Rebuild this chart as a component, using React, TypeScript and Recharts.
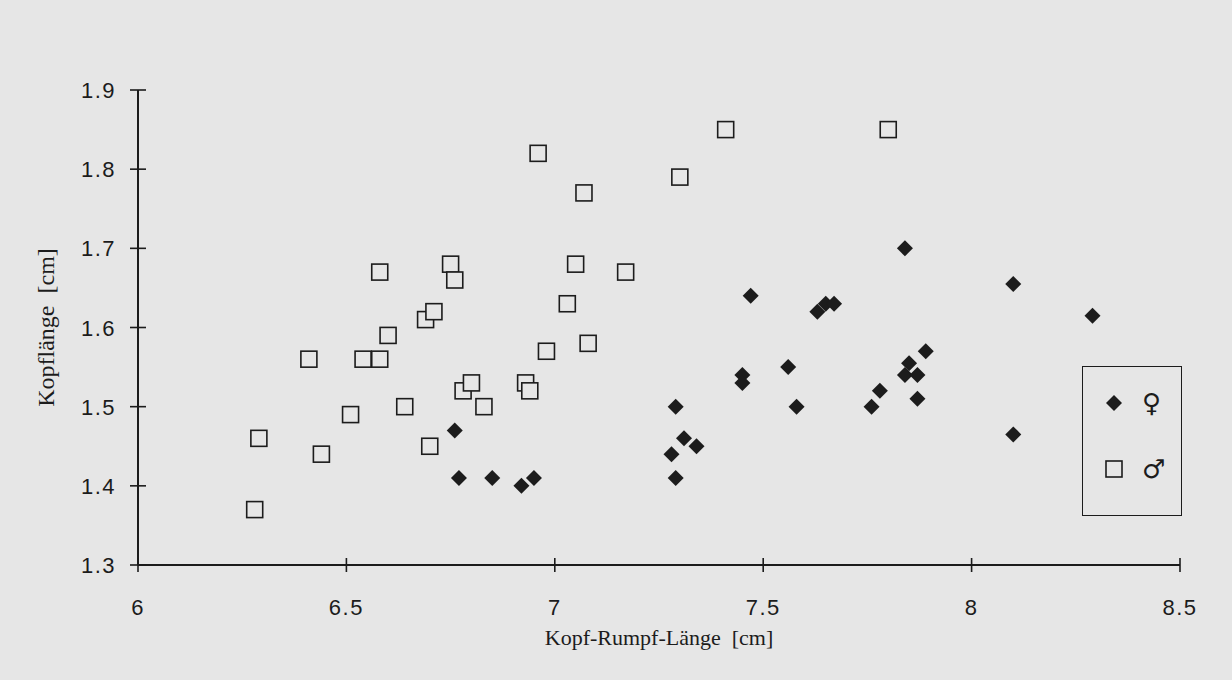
import { ScatterChart, Scatter, XAxis, YAxis } from 'recharts';

// Kopf-Rumpf-Länge (x) und Kopflänge (y)
const femaleKRL = [6.76, 6.77, 6.85, 6.92, 6.95, 7.28, 7.29, 7.29, 7.31, 7.34, 7.45, 7.45, 7.47, 7.56, 7.58, 7.63, 7.65, 7.67, 7.76, 7.78, 7.84, 7.84, 7.85, 7.87, 7.87, 7.89, 8.1, 8.1, 8.29];
const femaleKL = [1.47, 1.41, 1.41, 1.4, 1.41, 1.44, 1.5, 1.41, 1.46, 1.45, 1.54, 1.53, 1.64, 1.55, 1.5, 1.62, 1.63, 1.63, 1.5, 1.52, 1.7, 1.54, 1.555, 1.54, 1.51, 1.57, 1.655, 1.465, 1.615];

const maleKRL = [6.28, 6.29, 6.41, 6.44, 6.51, 6.54, 6.58, 6.58, 6.6, 6.64, 6.69, 6.71, 6.7, 6.75, 6.76, 6.78, 6.8, 6.83, 6.93, 6.94, 6.96, 6.98, 7.03, 7.05, 7.07, 7.08, 7.17, 7.3, 7.41, 7.8];
const maleKL = [1.37, 1.46, 1.56, 1.44, 1.49, 1.56, 1.56, 1.67, 1.59, 1.5, 1.61, 1.62, 1.45, 1.68, 1.66, 1.52, 1.53, 1.5, 1.53, 1.52, 1.82, 1.57, 1.63, 1.68, 1.77, 1.58, 1.67, 1.79, 1.85, 1.85];

const xTicks = [6, 6.5, 7, 7.5, 8, 8.5];
const yTicks = [1.3, 1.4, 1.5, 1.6, 1.7, 1.8, 1.9];
const seriesNames = ['♀', '♂'];

const female = femaleKRL.map((x, i) => ({ x, y: femaleKL[i] }));
const male = maleKRL.map((x, i) => ({ x, y: maleKL[i] }));

const INK = '#1c1c1c';
const PAPER = '#e6e6e6';
const TICK_SIZE = 8;
const TICK_MARGIN = 14;
const SANS = "'Liberation Sans', Arial, sans-serif";
const SERIF = "'Liberation Serif', 'Times New Roman', serif";

const Diamond = ({ cx, cy }: any) => (
  <path d={`M${cx},${cy - 8} L${cx + 8},${cy} L${cx},${cy + 8} L${cx - 8},${cy} Z`} fill={INK} />
);

const Square = ({ cx, cy }: any) => (
  <rect x={cx - 8} y={cy - 8} width={16} height={16} fill={PAPER} stroke={INK} strokeWidth={1.6} />
);

const YTick = ({ x, y, payload }: any) => {
  const ax = x + TICK_SIZE + TICK_MARGIN;
  return (
    <g>
      <line x1={ax - 8} x2={ax + 8} y1={y} y2={y} stroke={INK} strokeWidth={1.6} />
      <text x={x} y={y} dy={8} textAnchor="end" fill={INK} fontSize={22} letterSpacing={1.5} fontFamily={SANS}>
        {payload.value}
      </text>
    </g>
  );
};

const XTick = ({ x, y, payload }: any) => {
  const ay = y - TICK_SIZE - TICK_MARGIN;
  return (
    <g>
      <line x1={x} x2={x} y1={ay - 7} y2={ay + 7} stroke={INK} strokeWidth={1.6} />
      <text x={x} y={y} dy={28} textAnchor="middle" fill={INK} fontSize={22} letterSpacing={1.5} fontFamily={SANS}>
        {payload.value}
      </text>
    </g>
  );
};

const LegendBox = () => (
  <div style={{ position: 'absolute', left: 1082, top: 366, width: 100, height: 150, border: `1.6px solid ${INK}`, boxSizing: 'border-box' }}>
    {seriesNames.map((name, i) => (
      <div key={name} style={{ position: 'absolute', left: 21, top: 26 + i * 66, display: 'flex', alignItems: 'center', gap: 18 }}>
        <svg width={20} height={20}>
          {i === 0 ? <Diamond cx={10} cy={10} /> : <Square cx={10} cy={10} />}
        </svg>
        <span style={{ fontFamily: "'DejaVu Sans', sans-serif", fontSize: 26, fontWeight: 'bold', color: INK, lineHeight: '20px' }}>
          {name}
        </span>
      </div>
    ))}
  </div>
);

export default function App() {
  return (
    <div style={{ position: 'absolute', left: 0, top: 0, width: 1232, height: 680, background: PAPER }}>
      <ScatterChart width={1232} height={680} margin={{ top: 90, right: 52, bottom: 55, left: 58 }}>
        <XAxis
          type="number"
          dataKey="x"
          domain={[6, 8.5]}
          ticks={xTicks}
          height={60}
          stroke={INK}
          strokeWidth={2}
          tickSize={TICK_SIZE}
          tickMargin={TICK_MARGIN}
          tickLine={false}
          tick={<XTick />}
          label={{
            value: 'Kopf-Rumpf-Länge\u00a0\u00a0[cm]',
            position: 'bottom',
            offset: 4,
            style: { fontFamily: SERIF, fontSize: 22, fill: INK },
          }}
        />
        <YAxis
          type="number"
          dataKey="y"
          domain={[1.3, 1.9]}
          ticks={yTicks}
          width={80}
          stroke={INK}
          strokeWidth={2}
          tickSize={TICK_SIZE}
          tickMargin={TICK_MARGIN}
          tickLine={false}
          tick={<YTick />}
          label={{
            value: 'Kopflänge\u00a0\u00a0[cm]',
            angle: -90,
            position: 'left',
            offset: 13,
            style: { fontFamily: SERIF, fontSize: 24, fill: INK, textAnchor: 'middle' },
          }}
        />
        <Scatter name={seriesNames[0]} data={female} shape={<Diamond />} fill={INK} isAnimationActive={false} />
        <Scatter name={seriesNames[1]} data={male} shape={<Square />} fill={PAPER} isAnimationActive={false} />
      </ScatterChart>
      <LegendBox />
    </div>
  );
}
